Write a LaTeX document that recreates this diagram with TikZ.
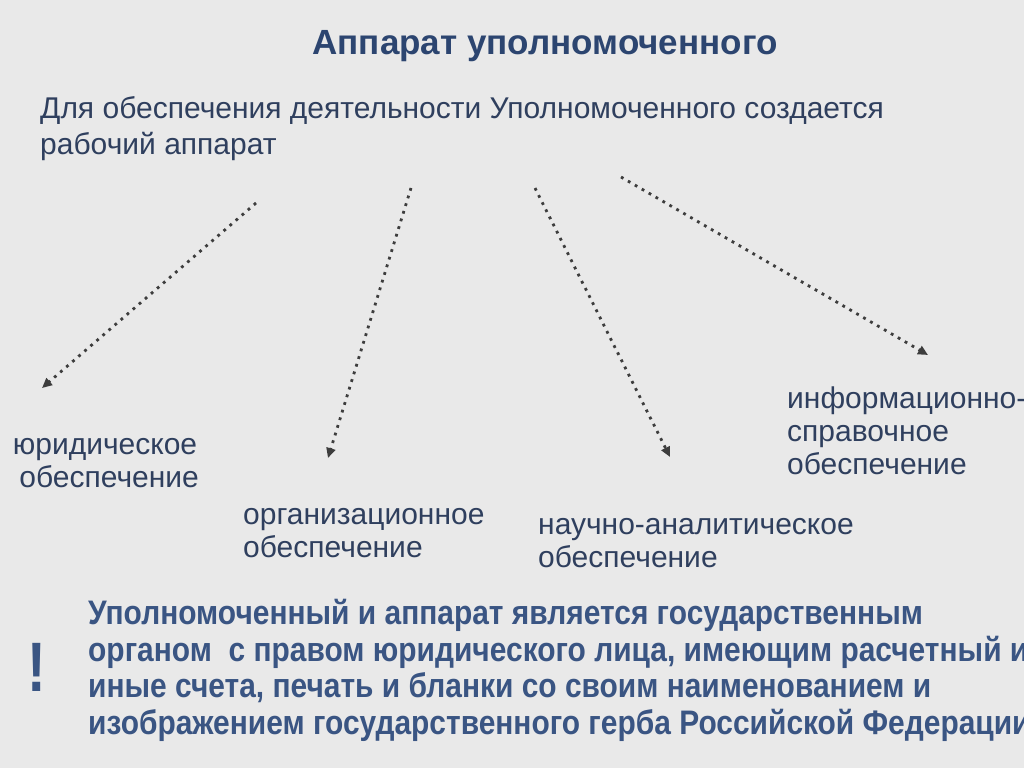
\documentclass[tikz,border=0pt]{standalone}
\usepackage{fontspec}
\setmainfont{Liberation Sans}
\newfontfamily\notefont[FakeStretch=0.88]{Liberation Sans}
\newfontfamily\bangfont[FakeStretch=0.8]{Liberation Sans}
\usetikzlibrary{arrows.meta, positioning}

\definecolor{paper}{HTML}{E9E9E9}
\definecolor{inkblue}{HTML}{2F3F5E}
\definecolor{headblue}{HTML}{2C4570}
\definecolor{noteblue}{HTML}{3A5583}
\definecolor{dotgray}{HTML}{3D3D3D}

\tikzset{
	headtext/.style={inner sep=0, text=headblue, font=\fontsize{35bp}{40bp}\selectfont\bfseries},
	leadtext/.style={inner sep=0, text=inkblue, align=left, font=\fontsize{30bp}{36bp}\selectfont, execute at begin node=\strut},
	branch/.style={inner sep=0, text=inkblue, font=\fontsize{30bp}{33bp}\selectfont, execute at begin node=\strut},
	notetext/.style={inner sep=0, text=noteblue, align=left, font=\fontsize{34bp}{36.5bp}\notefont\bfseries\selectfont, execute at begin node=\strut},
	dotarrow/.style={dotgray, line width=2.8bp, dash pattern=on 2.8bp off 5.2bp, -{Triangle[length=10bp,width=9bp]}}
}

\begin{document}
\begin{tikzpicture}[x=1bp, y=-1bp, node distance=4bp and 0bp]
	\fill[paper] (0,0) rectangle (1024,768);
	\useasboundingbox (0,0) rectangle (1024,768);
	\clip (0,0) rectangle (1024,768);

	\node[headtext, anchor=base] (title) at (545,55) {Аппарат уполномоченного};
	\node[leadtext, anchor=north west] (lead) at (40,96) {Для обеспечения деятельности Уполномоченного создается\\рабочий аппарат};

	% branches
	\node[branch, align=center, anchor=north] (legal) at (105,438) {юридическое\\\ обеспечение};
	\node[branch, align=left, anchor=north west] (org) at (243,508) {организационное\\обеспечение};
	\node[branch, align=left, anchor=north west] (sci) at (538,518) {научно-аналитическое\\обеспечение};
	\node[branch, align=left, anchor=north west] (info) at (787,387) {информационно-\\справочное\\обеспечение};

	\coordinate (s1) at (256,203); \coordinate (e1) at (42,388);
	\coordinate (s2) at (411,188); \coordinate (e2) at (328,458);
	\coordinate (s3) at (535,188); \coordinate (e3) at (670,457);
	\coordinate (s4) at (621,177); \coordinate (e4) at (928,355);
	\foreach \from/\to in {s1/e1,s2/e2,s3/e3,s4/e4}
		\draw[dotarrow] (\from) -- (\to);

	% note
	\node[notetext, anchor=north west] (note) at (88,599) {Уполномоченный и аппарат является государственным\\органом~ с правом юридического лица, имеющим расчетный и\\иные счета, печать и бланки со своим наименованием и\\изображением государственного герба Российской Федерации};
	\node[left=42bp of note, yshift=5bp, inner sep=0, text=noteblue, font=\fontsize{70bp}{70bp}\bangfont\bfseries\selectfont] (bang) {!};
\end{tikzpicture}
\end{document}
